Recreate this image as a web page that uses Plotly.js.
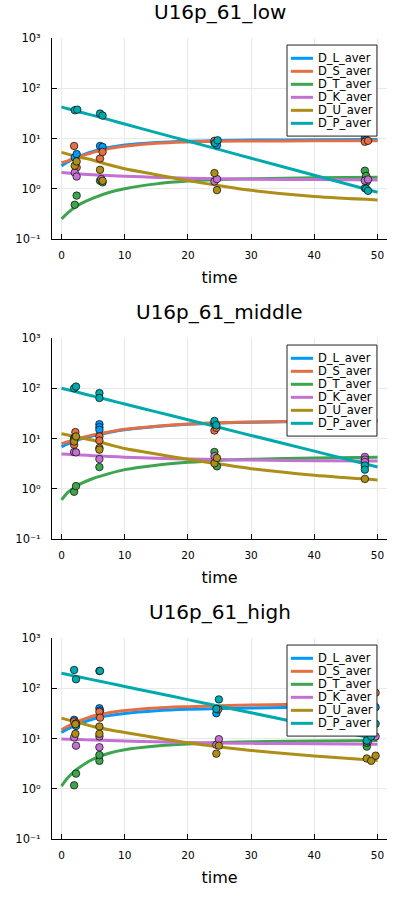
<!DOCTYPE html>
<html><head><meta charset="utf-8">
<script src="https://cdn.plot.ly/plotly-3.0.1.min.js"></script>
<style>html,body{margin:0;padding:0;background:#fff}#chart{width:399px;height:899px}</style>
</head><body><div id="chart"></div>
<script>
// ---------- data ----------
const seriesNames = ["D_L_aver","D_S_aver","D_T_aver","D_K_aver","D_U_aver","D_P_aver"];
const seriesColors = ["#009AFA","#E36F47","#3EA44E","#C371D2","#AC8E18","#00A9AD"];
const panelTitles = ["U16p_61_low","U16p_61_middle","U16p_61_high"];
const xTitle = "time";
const xTickVals = [0,10,20,30,40,50];
const xTickText = ["0","10","20","30","40","50"];
const yTickVals = [0.1,1,10,100,1000];
const yTickText = ["10⁻¹","10⁰","10¹","10²","10³"];

// model curves (sampled)
const curveTime = [0,1,2,3,5,7.5,10,15,20,25,30,40,50];

const lowL = [2.85,3.4,4.0,4.5,5.5,6.6,7.4,8.3,8.8,9.1,9.3,9.4,9.5];
const lowS = [3.3,3.6,4.0,4.4,5.3,6.3,7.0,8.0,8.5,8.8,8.9,9.0,9.0];
const lowT = [0.25,0.33,0.42,0.5,0.65,0.84,1.0,1.25,1.42,1.52,1.58,1.66,1.7];
const lowK = [2.1,2.05,2.0,1.97,1.9,1.83,1.78,1.68,1.62,1.58,1.55,1.52,1.5];
const lowU = [5.3,4.9,4.5,4.2,3.7,3.0,2.5,1.9,1.45,1.15,0.93,0.7,0.6];
const lowP = [42.6,39.2,36.2,33.3,28.8,23.7,19.4,13.1,8.9,6.0,4.05,1.85,0.85];

const midL = [6.8,7.8,8.8,9.7,11.3,13.2,14.9,17.3,19.2,20.4,21.1,21.9,22.3];
const midS = [7.8,8.6,9.4,10.2,11.8,13.5,15.3,17.6,19.4,20.5,21.2,22.0,22.3];
const midT = [0.6,0.85,1.05,1.25,1.6,2.0,2.4,2.95,3.35,3.65,3.85,4.1,4.25];
const midK = [4.9,4.85,4.75,4.7,4.55,4.4,4.25,4.05,3.9,3.8,3.72,3.62,3.55];
const midU = [12.4,11.7,11.0,10.3,9.2,7.6,6.3,4.9,3.85,3.1,2.5,1.85,1.5];
const midP = [100,93,86.5,80.5,69.7,58.2,48.6,33.9,23.6,16.5,11.5,5.6,2.7];

const highL = [13.2,15.5,17.8,20,24.5,28.5,31.5,35.5,38,39.5,40.5,42.5,43.7];
const highS = [14.9,17.5,20.2,22.8,28,32.5,36,40.5,43,45,46.6,48,49];
const highT = [1.13,1.65,2.2,2.75,3.9,5.1,6.0,7.1,7.8,8.3,8.6,8.9,9.1];
const highK = [9.8,9.7,9.6,9.5,9.3,9.1,8.9,8.6,8.35,8.15,8.0,7.85,7.7];
const highU = [25.4,23.5,21.8,20.2,17.3,14.9,13.2,10.3,8.2,6.8,5.8,4.5,3.65];
const highP = [199,187,176,166,146.9,126.3,108.6,80.4,59.4,43.9,32.5,17.8,9.7];

// measured points
const lowPtsLt = [2.1,2.4,6.1,6.5,24.2,24.6,48.0,48.2], lowPtsLv = [4.2,4.9,7.1,6.8,8.3,7.4,10.3,9.4];
const lowPtsSt = [2.0,2.4,6.1,6.5,24.2,48.0,48.5],      lowPtsSv = [7.1,2.65,4.0,5.4,9.0,8.6,9.0];
const lowPtsTt = [2.1,2.4,6.1,6.5,48.0,48.2,48.3],      lowPtsTv = [0.48,0.73,1.44,1.34,2.28,1.8,1.38];
const lowPtsKt = [2.1,2.4,6.3,24.2,24.6,48.0,48.5],     lowPtsKv = [2.1,1.75,1.56,1.4,1.56,1.45,1.53];
const lowPtsUt = [2.1,2.4,6.1,6.5,24.2,24.6],           lowPtsUv = [2.87,3.5,2.38,1.44,2.05,0.94];
const lowPtsPt = [2.1,2.5,6.1,6.5,24.3,24.7,48.0,48.2,48.5], lowPtsPv = [36.6,37.5,31.4,28.6,8.1,9.2,1.03,1.0,0.91];

const midPtsLt = [2.0,2.2,6.0,6.0,6.0,24.2],            midPtsLv = [10.2,11,19.3,16.8,14.9,20];
const midPtsSt = [2.2,2.0,2.0,6.0,6.0,24.2,24.5],       midPtsSv = [13.4,7.5,9.4,11,9.1,14.4,16.3];
const midPtsTt = [2.0,2.3,6.0,24.2,24.6],               midPtsTv = [0.87,1.13,2.7,5.4,2.8];
const midPtsKt = [2.0,2.3,6.0,24.2,48.0,48.0,48.0],     midPtsKv = [5.4,5.3,3.9,4.45,4.3,3.8,3.4];
const midPtsUt = [2.0,2.3,6.0,6.0,24.2,24.6,48.0],      midPtsUv = [8.7,11,6.5,6.0,3.2,4.1,1.57];
const midPtsPt = [2.0,2.3,6.0,6.0,24.2,24.5,48.0,48.0], midPtsPv = [100,108,80,64,22.4,18.4,2.9,2.4];

const highPtsLt = [2.0,2.3,6.0,6.1,24.5,49.7],          highPtsLv = [23.5,17.8,40,36,31.8,42];
const highPtsSt = [2.0,2.3,6.0,6.1,24.8,49.7],          highPtsSv = [21.8,20,34,26,38,81.5];
const highPtsTt = [2.0,2.3,6.0,6.0,48.3,48.3],          highPtsTv = [1.17,2.0,3.6,4.7,6.9,8.2];
const highPtsKt = [2.0,2.3,6.0,6.0,24.5,24.9,48.5,49.7], highPtsKv = [10.5,7.2,11,6.7,7.5,9.7,8.8,11];
const highPtsUt = [2.2,2.2,6.0,6.0,24.5,24.9,48.3,49.0,49.7], highPtsUv = [19.3,12.4,17.3,12.4,5.0,7.2,4.0,3.6,4.55];
const highPtsPt = [2.0,2.3,6.0,6.1,24.9,24.5,48.3,49.0,49.7], highPtsPv = [231,151,221,221,60,38.8,9.1,11,19.6];

// ---------- assembly ----------
const panels = [
  {curves:[lowL,lowS,lowT,lowK,lowU,lowP],
   pts:[[lowPtsLt,lowPtsLv],[lowPtsSt,lowPtsSv],[lowPtsTt,lowPtsTv],[lowPtsKt,lowPtsKv],[lowPtsUt,lowPtsUv],[lowPtsPt,lowPtsPv]]},
  {curves:[midL,midS,midT,midK,midU,midP],
   pts:[[midPtsLt,midPtsLv],[midPtsSt,midPtsSv],[midPtsTt,midPtsTv],[midPtsKt,midPtsKv],[midPtsUt,midPtsUv],[midPtsPt,midPtsPv]]},
  {curves:[highL,highS,highT,highK,highU,highP],
   pts:[[highPtsLt,highPtsLv],[highPtsSt,highPtsSv],[highPtsTt,highPtsTv],[highPtsKt,highPtsKv],[highPtsUt,highPtsUv],[highPtsPt,highPtsPv]]}
];

const W = 399, H = 899;
const FONT = "DejaVu Sans, sans-serif";
const traces = [];
const layout = {
  width: W, height: H, margin:{l:0,r:0,t:0,b:0},
  paper_bgcolor:"#fff", plot_bgcolor:"#fff", showlegend:false,
  font:{family:FONT, color:"#000"},
  shapes:[], annotations:[]
};

const xDom = [52/W, 387/W];
panels.forEach((p, k) => {
  const s = k === 0 ? "" : String(k+1);
  const xa = "x"+s, ya = "y"+s;
  const topPx = 38 + 300*k, botPx = 239 + 300*k;
  layout["xaxis"+s] = {
    domain:xDom, anchor:ya, range:[-1.5,51.5],
    tickmode:"array", tickvals:xTickVals, ticktext:xTickText,
    ticks:"inside", ticklen:5, tickcolor:"#000", tickwidth:1,
    showline:true, linecolor:"#000", linewidth:1, mirror:false,
    showgrid:true, gridcolor:"#e9e9e9", gridwidth:1, zeroline:false,
    tickfont:{size:10.5, family:FONT, color:"#000"}, ticklabelstandoff:6,
    title:{text:xTitle, font:{size:16, family:FONT, color:"#000"}, standoff:12}
  };
  layout["yaxis"+s] = {
    domain:[1-botPx/H, 1-topPx/H], anchor:xa, type:"log", range:[-1,3],
    tickmode:"array", tickvals:yTickVals, ticktext:yTickText,
    ticks:"inside", ticklen:5, tickcolor:"#000", tickwidth:1,
    showline:true, linecolor:"#000", linewidth:1, mirror:false,
    showgrid:true, gridcolor:"#e9e9e9", gridwidth:1, zeroline:false,
    tickfont:{size:11.5, family:FONT, color:"#000"}, ticklabelstandoff:8
  };
  // curves
  p.curves.forEach((vals, i) => {
    traces.push({type:"scatter", mode:"lines", x:curveTime, y:vals, xaxis:xa, yaxis:ya,
      name:seriesNames[i], line:{color:seriesColors[i], width:3, shape:"spline", smoothing:0.8},
      hoverinfo:"skip"});
  });
  // points
  p.pts.forEach((pt, i) => {
    traces.push({type:"scatter", mode:"markers", x:pt[0], y:pt[1], xaxis:xa, yaxis:ya,
      name:seriesNames[i], showlegend:false,
      marker:{color:seriesColors[i], size:7.5, line:{color:"rgba(0,0,0,0.85)", width:0.8}}});
  });
  // subplot title
  layout.annotations.push({text:panelTitles[k], xref:xa+" domain", x:0.5, yref:"paper",
    y:1-(12+300*k)/H, yanchor:"middle", xanchor:"center", showarrow:false,
    font:{size:20, family:FONT, color:"#000"}});
  // legend box
  const dx = xa+" domain", dy = ya+" domain";
  layout.shapes.push({type:"rect", xref:dx, yref:dy, x0:0.7015, x1:0.970, y0:0.512, y1:0.965,
    line:{color:"#222", width:1}, fillcolor:"#fff", layer:"above"});
  seriesNames.forEach((nm, i) => {
    const yy = 0.899 - 0.0647*i;
    layout.shapes.push({type:"line", xref:dx, yref:dy, x0:0.713, x1:0.779, y0:yy, y1:yy,
      line:{color:seriesColors[i], width:3}, layer:"above"});
    layout.annotations.push({text:nm, xref:dx, yref:dy, x:0.789, y:yy, xanchor:"left",
      yanchor:"middle", showarrow:false, font:{size:11.5, family:FONT, color:"#000"}});
  });
});

Plotly.newPlot("chart", traces, layout, {staticPlot:true, displayModeBar:false});
</script>
</body></html>
